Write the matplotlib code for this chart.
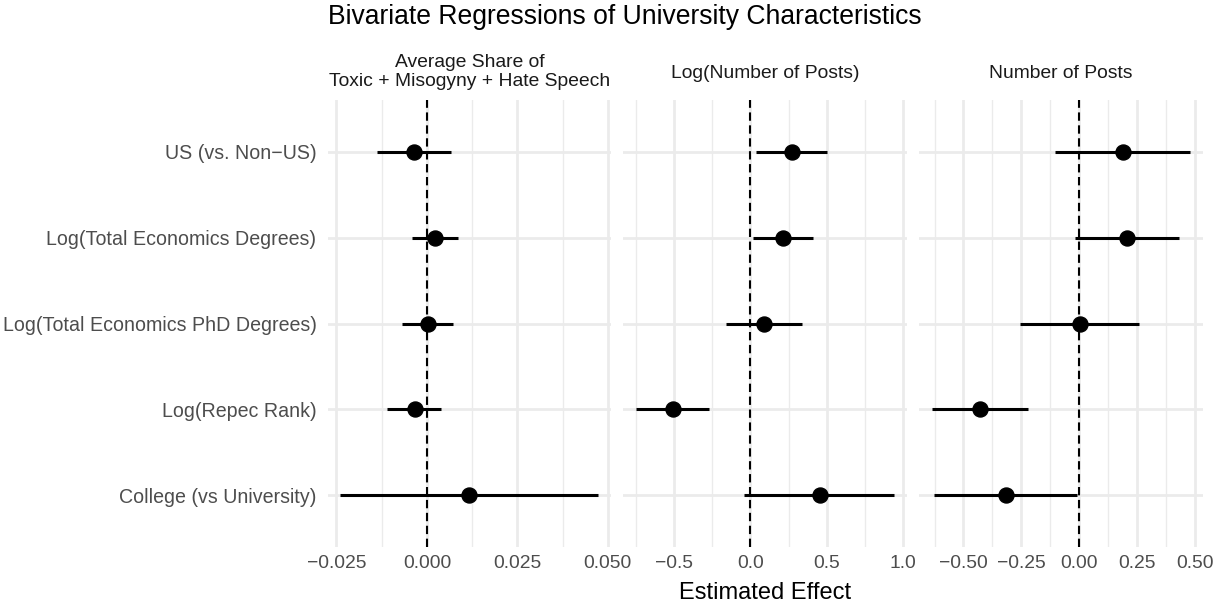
import matplotlib
matplotlib.use("Agg")
import matplotlib.pyplot as plt
import numpy as np

plt.rcParams["font.family"] = ["Liberation Sans", "DejaVu Sans"]

# --- data ---
predictors = [
    "US (vs. Non\u2212US)",
    "Log(Total Economics Degrees)",
    "Log(Total Economics PhD Degrees)",
    "Log(Repec Rank)",
    "College (vs University)",
]

outcomes = [
    "Average Share of\nToxic + Misogyny + Hate Speech",
    "Log(Number of Posts)",
    "Number of Posts",
]

# estimates / lower / upper per outcome (order = predictors)
est_share = [-0.0036, 0.0022, 0.0002, -0.0034, 0.0117]
lo_share = [-0.0138, -0.0042, -0.0068, -0.0109, -0.0239]
hi_share = [0.0066, 0.0087, 0.0073, 0.0039, 0.0474]

est_logposts = [0.274, 0.215, 0.092, -0.507, 0.453]
lo_logposts = [0.037, 0.020, -0.157, -0.748, -0.039]
hi_logposts = [0.505, 0.409, 0.339, -0.269, 0.943]

est_posts = [0.187, 0.206, 0.002, -0.429, -0.318]
lo_posts = [-0.104, -0.020, -0.255, -0.635, -0.626]
hi_posts = [0.478, 0.430, 0.256, -0.222, -0.011]

major_ticks = [
    [-0.025, 0.0, 0.025, 0.05],
    [-0.5, 0.0, 0.5, 1.0],
    [-0.5, -0.25, 0.0, 0.25, 0.5],
]
tick_labels = [
    ["\u22120.025", "0.000", "0.025", "0.050"],
    ["\u22120.5", "0.0", "0.5", "1.0"],
    ["\u22120.50", "\u22120.25", "0.00", "0.25", "0.50"],
]

panels = [
    (est_share, lo_share, hi_share),
    (est_logposts, lo_logposts, hi_logposts),
    (est_posts, lo_posts, hi_posts),
]

W, H = 1226, 607
fig = plt.figure(figsize=(W / 100, H / 100), dpi=100)
fig.patch.set_facecolor("white")

# panel boxes in pixels (left, width)
panel_left = [327.5, 623.4, 919.3]
panel_width = 283.8
top_px, bot_px = 100, 547

grid_col = "#EBEBEB"
y = np.arange(len(predictors))

for i, (est, lo, hi) in enumerate(panels):
    ax = fig.add_axes([panel_left[i] / W, 1 - bot_px / H,
                       panel_width / W, (bot_px - top_px) / H])
    ax.set_facecolor("white")
    for s in ax.spines.values():
        s.set_visible(False)

    # ggplot-like 5% expansion of data range
    xmin, xmax = min(lo), max(hi)
    pad = 0.05 * (xmax - xmin)
    ax.set_xlim(xmin - pad, xmax + pad)
    ax.set_ylim(len(predictors) - 1 + 0.6, -0.6)

    maj = major_ticks[i]
    step = maj[1] - maj[0]
    minor = [m + step / 2 for m in [maj[0] - step] + maj]
    minor = [m for m in minor if xmin - pad <= m <= xmax + pad]

    ax.set_xticks(maj)
    ax.set_xticklabels(tick_labels[i])
    ax.set_xticks(minor, minor=True)
    ax.set_yticks(y)
    if i == 0:
        ax.set_yticklabels(predictors)
    else:
        ax.set_yticklabels([])

    ax.grid(True, which="major", color=grid_col, linewidth=2.0)
    ax.grid(True, which="minor", axis="x", color=grid_col, linewidth=1.0)
    ax.set_axisbelow(True)
    ax.tick_params(axis="both", which="both", length=0, labelcolor="#4D4D4D")
    ax.tick_params(axis="x", pad=6, labelsize=13.9)
    ax.tick_params(axis="y", pad=8, labelsize=14.1)

    ax.axvline(0, color="black", linewidth=1.5, linestyle=(0, (4, 2.2)), zorder=2)
    ax.hlines(y, lo, hi, color="black", linewidth=2.2, zorder=3)
    ax.plot(est, y, "o", color="black", markersize=10.8, zorder=4)

    cx = (panel_left[i] + panel_width / 2) / W
    cy = 72 if "\n" in outcomes[i] else 74
    fig.text(cx, 1 - cy / H, outcomes[i], ha="center", va="center",
             fontsize=13.9, color="#1A1A1A", linespacing=1.08)

fig.text(327.5 / W, 1 - 24 / H, "Bivariate Regressions of University Characteristics",
         ha="left", va="baseline", fontsize=19.1, color="black")
fig.text((panel_left[0] + panel_left[2] + panel_width) / 2 / W, 1 - 599 / H,
         "Estimated Effect", ha="center", va="baseline", fontsize=17, color="black")

fig.savefig("out.png", dpi=100, facecolor="white")
